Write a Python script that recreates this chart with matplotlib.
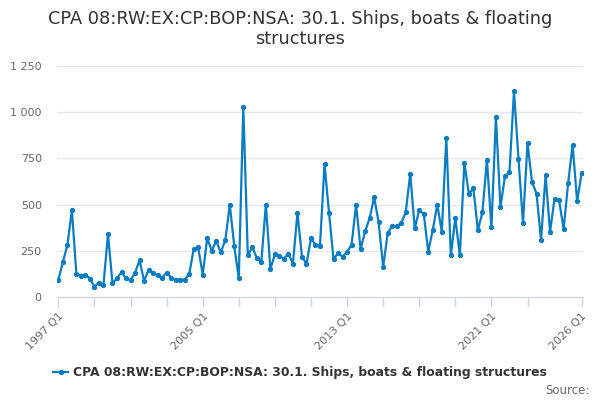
import numpy as np
import matplotlib
matplotlib.use("Agg")
import matplotlib.pyplot as plt
from matplotlib.ticker import FuncFormatter

# Quarterly values, 1997 Q1 .. 2026 Q1
values = [92, 190, 279, 471, 125, 116, 120, 100, 56, 78,
          65, 341, 74, 103, 134, 101, 91, 132, 198, 87,
          147, 132, 118, 105, 132, 105, 91, 94, 94, 123,
          259, 268, 121, 319, 250, 304, 241, 306, 500, 274,
          101, 1029, 225, 270, 210, 192, 500, 152, 230, 221,
          207, 234, 181, 455, 219, 179, 317, 283, 277, 721,
          455, 205, 237, 219, 243, 283, 500, 259, 355, 426,
          540, 404, 163, 344, 386, 382, 400, 458, 667, 371,
          471, 449, 245, 364, 500, 352, 863, 225, 428, 225,
          725, 558, 589, 361, 458, 743, 377, 973, 486, 654,
          674, 1113, 748, 399, 834, 622, 560, 308, 658, 353,
          533, 525, 366, 616, 823, 518, 672]
quarters = [f"{1997 + i // 4} Q{i % 4 + 1}" for i in range(len(values))]

series_name = "CPA 08:RW:EX:CP:BOP:NSA: 30.1. Ships, boats & floating structures"
title = "CPA 08:RW:EX:CP:BOP:NSA: 30.1. Ships, boats & floating\nstructures"
tick_idx = list(range(0, 105, 8)) + [116]
label_idx = [0, 32, 64, 96, 116]

blue = "#0a7cc1"
grey = "#666666"

fig = plt.figure(figsize=(6, 4), dpi=100)
ax = fig.add_axes([57 / 600, 103 / 400, 526 / 600, 231 / 400])

x = np.arange(len(values))
line, = ax.plot(x, values, color=blue, lw=1.6, marker="o", ms=2.8,
                label=series_name)

ax.set_xlim(-0.3, 116.3)
ax.set_ylim(0, 1250)
ax.set_yticks([0, 250, 500, 750, 1000, 1250])
ax.yaxis.set_major_formatter(FuncFormatter(lambda v, p: f"{int(v):,}".replace(",", " ")))
ax.grid(axis="y", color="#e6e6e6", lw=1)
ax.set_axisbelow(True)

ax.set_xticks(tick_idx)
ax.set_xticklabels([quarters[i] if i in label_idx else "" for i in tick_idx],
                   rotation=45, ha="right", rotation_mode="anchor")

for s in ["top", "right", "left"]:
    ax.spines[s].set_visible(False)
ax.spines["bottom"].set_color("#ccd6eb")
ax.tick_params(axis="x", colors="#ccd6eb", length=7, width=1, labelcolor=grey,
               labelsize=8, pad=3)
ax.tick_params(axis="y", length=0, labelcolor=grey, labelsize=8, pad=11)

fig.text(0.5, 0.975, title, ha="center", va="top", fontsize=12.8,
         color="#333333", linespacing=1.15)

leg = fig.legend(handles=[line], loc="center", bbox_to_anchor=(0.5, 0.068),
                 frameon=False, handlelength=1.2, handletextpad=0.4,
                 prop={"size": 8.9, "weight": "bold"})
for t in leg.get_texts():
    t.set_color("#333333")

fig.text(0.982, 0.025, "Source:", ha="right", va="center", fontsize=8.5, color=grey)

fig.savefig("out.png", dpi=100)
